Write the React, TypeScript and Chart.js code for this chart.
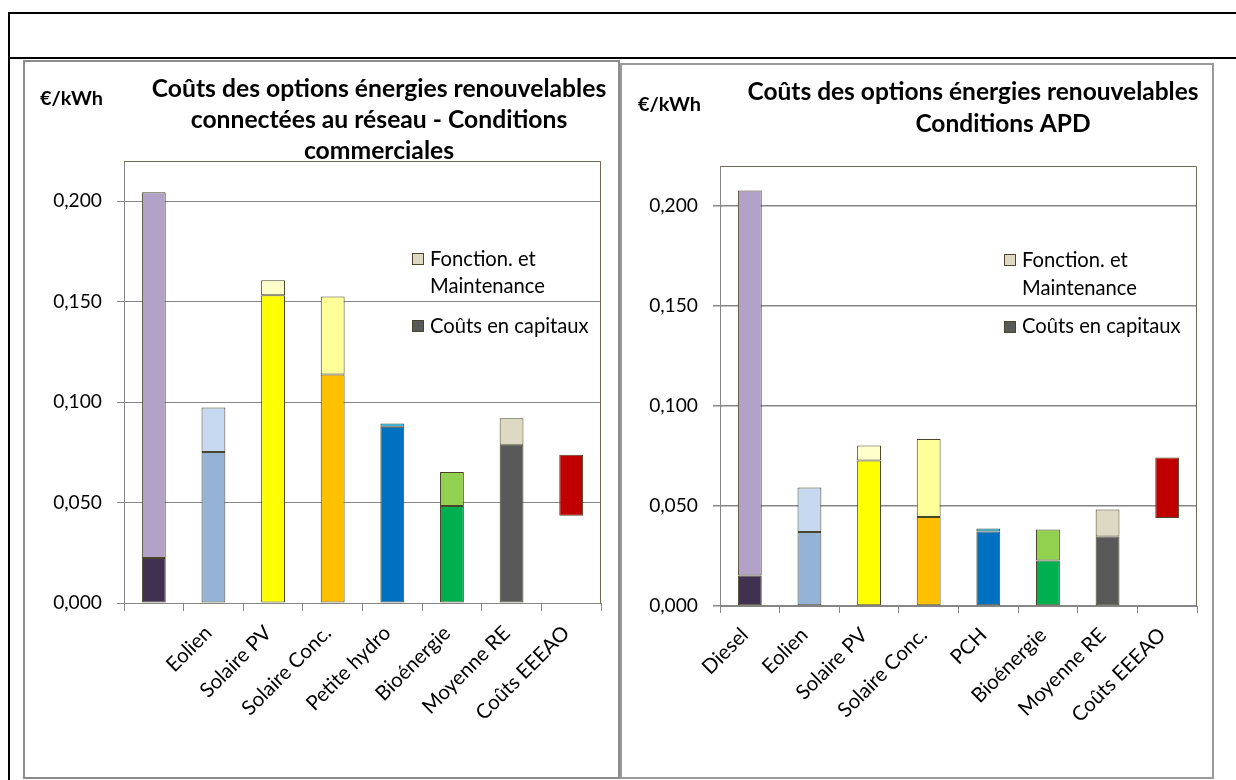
import React, { useEffect, useRef } from 'react';
import { Chart, registerables } from 'chart.js';

Chart.register(...registerables);

// ---------------- data ----------------
const LEFT_CATEGORIES = ['', 'Eolien', 'Solaire PV', 'Solaire Conc.', 'Petite hydro', 'Bioénergie', 'Moyenne RE', 'Coûts EEEAO'];
const LEFT_CAPITAL = [0.0224, 0.0751, 0.1532, 0.1137, 0.0877, 0.0483, 0.0788];
const LEFT_OM = [0.1821, 0.0222, 0.0075, 0.0388, 0.0017, 0.0169, 0.0132];
const LEFT_EEEAO = [0.0434, 0.0738];

const RIGHT_CATEGORIES = ['Diesel', 'Eolien', 'Solaire PV', 'Solaire Conc.', 'PCH', 'Bioénergie', 'Moyenne RE', 'Coûts EEEAO'];
const RIGHT_CAPITAL = [0.0153, 0.037, 0.0728, 0.0445, 0.0373, 0.0227, 0.0347];
const RIGHT_OM = [0.1925, 0.0223, 0.0074, 0.039, 0.0015, 0.0155, 0.0135];
const RIGHT_EEEAO = [0.044, 0.0742];

const Y_TICK_VALUES = [0, 0.05, 0.1, 0.15, 0.2];
const Y_TICK_LABELS = ['0,000', '0,050', '0,100', '0,150', '0,200'];
const Y_MAX = 0.22;

const SERIES_CAPITAL = 'Coûts en capitaux';
const SERIES_OM = 'Fonction. et Maintenance';
const LEGEND_OM_LINES = ['Fonction. et', 'Maintenance'];

const LEFT_TITLE = ['Coûts des options énergies renouvelables', 'connectées au réseau - Conditions', 'commerciales'];
const RIGHT_TITLE = ['Coûts des options énergies renouvelables', 'Conditions APD'];
const UNIT = '€/kWh';

// ---------------- styles ----------------
const CAPITAL_COLORS = ['#403151', '#95B3D7', '#FFFF00', '#FFC000', '#0070C0', '#00B050', '#595959'];
const OM_COLORS = ['#B3A2C7', '#C6D9F1', '#FFFFCC', '#FFFF99', '#00B0F0', '#92D050', '#DDD9C3'];
const EEEAO_COLOR = '#C00000';
const BAR_BORDER = '#4A452A';
const GRID = '#868686';
const PLOT_BORDER = '#6F6B55';
const FAMILY = 'Lato';
const W = 1236;
const H = 780;

function fitSize(text: string, weight: string, target: number): number {
  const c = document.createElement('canvas').getContext('2d') as CanvasRenderingContext2D;
  c.font = `${weight} 100px ${FAMILY}`;
  const w = c.measureText(text).width;
  return Math.round((100 * target) / w * 10) / 10;
}

type Side = {
  key: string;
  categories: string[];
  capital: number[];
  om: number[];
  eeeao: number[];
  area: { left: number; top: number; right: number; bottom: number };
  unit: { x: number; y: number };
  title: string[];
  titleCenters: number[];
  titleBaselines: number[];
  titleWidth: number;
  legend: { x: number; omY: number; capY: number; textX: number; baselines: number[] };
  gridWidth: number;
  xTickLen: number;
};

const LEFT_SIDE: Side = {
  key: 'left',
  categories: LEFT_CATEGORIES,
  capital: LEFT_CAPITAL,
  om: LEFT_OM,
  eeeao: LEFT_EEEAO,
  area: { left: 124, top: 161, right: 601, bottom: 603 },
  unit: { x: 40, y: 105 },
  title: LEFT_TITLE,
  titleCenters: [379, 379, 379],
  titleBaselines: [97, 128, 159],
  titleWidth: 454,
  legend: { x: 412, omY: 253, capY: 320, textX: 430, baselines: [266, 293, 333] },
  gridWidth: 1,
  xTickLen: 8,
};

const RIGHT_SIDE: Side = {
  key: 'right',
  categories: RIGHT_CATEGORIES,
  capital: RIGHT_CAPITAL,
  om: RIGHT_OM,
  eeeao: RIGHT_EEEAO,
  area: { left: 720, top: 166, right: 1197, bottom: 606 },
  unit: { x: 638, y: 111 },
  title: RIGHT_TITLE,
  titleCenters: [973, 1003],
  titleBaselines: [100, 131.5],
  titleWidth: 451,
  legend: { x: 1004, omY: 254, capY: 321, textX: 1022, baselines: [267, 295, 333] },
  gridWidth: 1.5,
  xTickLen: 7,
};

function buildChart(canvas: HTMLCanvasElement, s: Side) {
  const tickSize = fitSize('0,200', 'normal', 49);
  const catSize = fitSize('Coûts EEEAO', 'normal', 123);
  const legendSize = fitSize(SERIES_CAPITAL, 'normal', 159);
  const titleSize = fitSize(s.title[0], 'bold', s.titleWidth);
  const unitSize = fitSize(UNIT, 'bold', 63);
  const Y_W = 90;
  const X_H = 150;
  const a = s.area;

  const decor = {
    id: 'decor_' + s.key,
    beforeDatasetsDraw(chart: any) {
      const ctx = chart.ctx as CanvasRenderingContext2D;
      const ca = chart.chartArea;
      ctx.save();
      ctx.strokeStyle = PLOT_BORDER;
      ctx.lineWidth = 1;
      ctx.beginPath();
      const t = Math.round(ca.top) + 0.5;
      const r = Math.round(ca.right) - 0.5;
      ctx.moveTo(Math.round(ca.left), t);
      ctx.lineTo(r, t);
      ctx.lineTo(r, Math.round(ca.bottom));
      ctx.stroke();
      ctx.restore();
    },
    afterDraw(chart: any) {
      const ctx = chart.ctx as CanvasRenderingContext2D;
      ctx.save();
      ctx.fillStyle = '#000';
      ctx.textBaseline = 'alphabetic';
      // unit
      ctx.font = `bold ${unitSize}px ${FAMILY}`;
      ctx.textAlign = 'left';
      ctx.fillText(UNIT, s.unit.x, s.unit.y);
      // title
      ctx.font = `bold ${titleSize}px ${FAMILY}`;
      ctx.textAlign = 'center';
      s.title.forEach((line, i) => ctx.fillText(line, s.titleCenters[i], s.titleBaselines[i]));
      // legend
      const L = s.legend;
      ctx.fillStyle = OM_COLORS[6];
      ctx.fillRect(L.x, L.omY, 12, 12);
      ctx.fillStyle = CAPITAL_COLORS[6];
      ctx.fillRect(L.x, L.capY, 12, 12);
      ctx.strokeStyle = BAR_BORDER;
      ctx.lineWidth = 1;
      ctx.strokeRect(L.x + 0.5, L.omY + 0.5, 11, 11);
      ctx.strokeRect(L.x + 0.5, L.capY + 0.5, 11, 11);
      ctx.fillStyle = '#000';
      ctx.font = `${legendSize}px ${FAMILY}`;
      ctx.textAlign = 'left';
      ctx.fillText(LEGEND_OM_LINES[0], L.textX, L.baselines[0]);
      ctx.fillText(LEGEND_OM_LINES[1], L.textX, L.baselines[1]);
      ctx.fillText(SERIES_CAPITAL, L.textX, L.baselines[2]);
      ctx.restore();
    },
  };

  const capData: any[] = [...s.capital, s.eeeao];
  const omData: any[] = [...s.om, null];

  return new Chart(canvas, {
    type: 'bar',
    data: {
      labels: s.categories,
      datasets: [
        {
          label: SERIES_CAPITAL,
          data: capData,
          backgroundColor: [...CAPITAL_COLORS, EEEAO_COLOR],
          borderColor: BAR_BORDER,
          borderWidth: 1,
          borderSkipped: false,
        },
        {
          label: SERIES_OM,
          data: omData,
          backgroundColor: [...OM_COLORS, EEEAO_COLOR],
          borderColor: BAR_BORDER,
          borderWidth: 1,
          borderSkipped: false,
        },
      ],
    },
    options: {
      responsive: false,
      maintainAspectRatio: false,
      animation: false,
      devicePixelRatio: 1,
      layout: {
        padding: { left: a.left - Y_W, top: a.top, right: W - a.right, bottom: H - a.bottom - X_H },
      },
      datasets: { bar: { barPercentage: 0.8, categoryPercentage: 0.5 } },
      plugins: { legend: { display: false }, title: { display: false }, tooltip: { enabled: false } },
      scales: {
        x: {
          stacked: true,
          grid: { display: true, drawOnChartArea: false, drawTicks: true, tickLength: s.xTickLen, color: GRID, offset: true },
          border: { display: true, color: GRID, width: 1 },
          ticks: {
            autoSkip: false,
            maxRotation: 45,
            minRotation: 45,
            padding: 10,
            labelOffset: -5,
            color: '#000',
            font: { family: FAMILY, size: catSize },
          },
          afterFit: (sc: any) => {
            sc.height = X_H;
          },
        },
        y: {
          stacked: true,
          min: 0,
          max: Y_MAX,
          grid: { color: GRID, lineWidth: s.gridWidth, tickLength: 7, drawTicks: true },
          border: { display: true, color: GRID, width: 1 },
          ticks: {
            includeBounds: false,
            padding: 15,
            color: '#000',
            font: { family: FAMILY, size: tickSize },
            callback: (v: any) => {
              const i = Y_TICK_VALUES.findIndex((t) => Math.abs(t - Number(v)) < 1e-9);
              return i >= 0 ? Y_TICK_LABELS[i] : '';
            },
          },
          afterBuildTicks: (sc: any) => {
            sc.ticks = Y_TICK_VALUES.map((v) => ({ value: v }));
          },
          afterFit: (sc: any) => {
            sc.width = Y_W;
          },
        },
      },
    } as any,
    plugins: [decor],
  });
}

function ChartCanvas({ side }: { side: Side }) {
  const ref = useRef<HTMLCanvasElement>(null);
  useEffect(() => {
    const chart = buildChart(ref.current as HTMLCanvasElement, side);
    return () => chart.destroy();
  }, [side]);
  return (
    <canvas
      ref={ref}
      width={W}
      height={H}
      style={{ position: 'absolute', left: 0, top: 0, width: W, height: H }}
    />
  );
}

export default function App() {
  const line = (left: number, top: number, width: number, height: number, bg: string) => (
    <div style={{ position: 'absolute', left, top, width, height, background: bg }} />
  );
  return (
    <div style={{ position: 'absolute', left: 0, top: 0, width: W, height: H, background: '#fff', overflow: 'hidden' }}>
      {line(8, 12, 1228, 2, '#000')}
      {line(8, 57, 1228, 2, '#000')}
      {line(8, 12, 2, 768, '#000')}
      <div
        style={{
          position: 'absolute',
          left: 23,
          top: 60,
          width: 597,
          height: 719,
          border: '2px solid #8c8c8c',
          boxSizing: 'border-box',
        }}
      />
      <div
        style={{
          position: 'absolute',
          left: 620,
          top: 63,
          width: 594,
          height: 716,
          border: '2px solid #9a9a9a',
          boxSizing: 'border-box',
        }}
      />
      <ChartCanvas side={LEFT_SIDE} />
      <ChartCanvas side={RIGHT_SIDE} />
    </div>
  );
}
